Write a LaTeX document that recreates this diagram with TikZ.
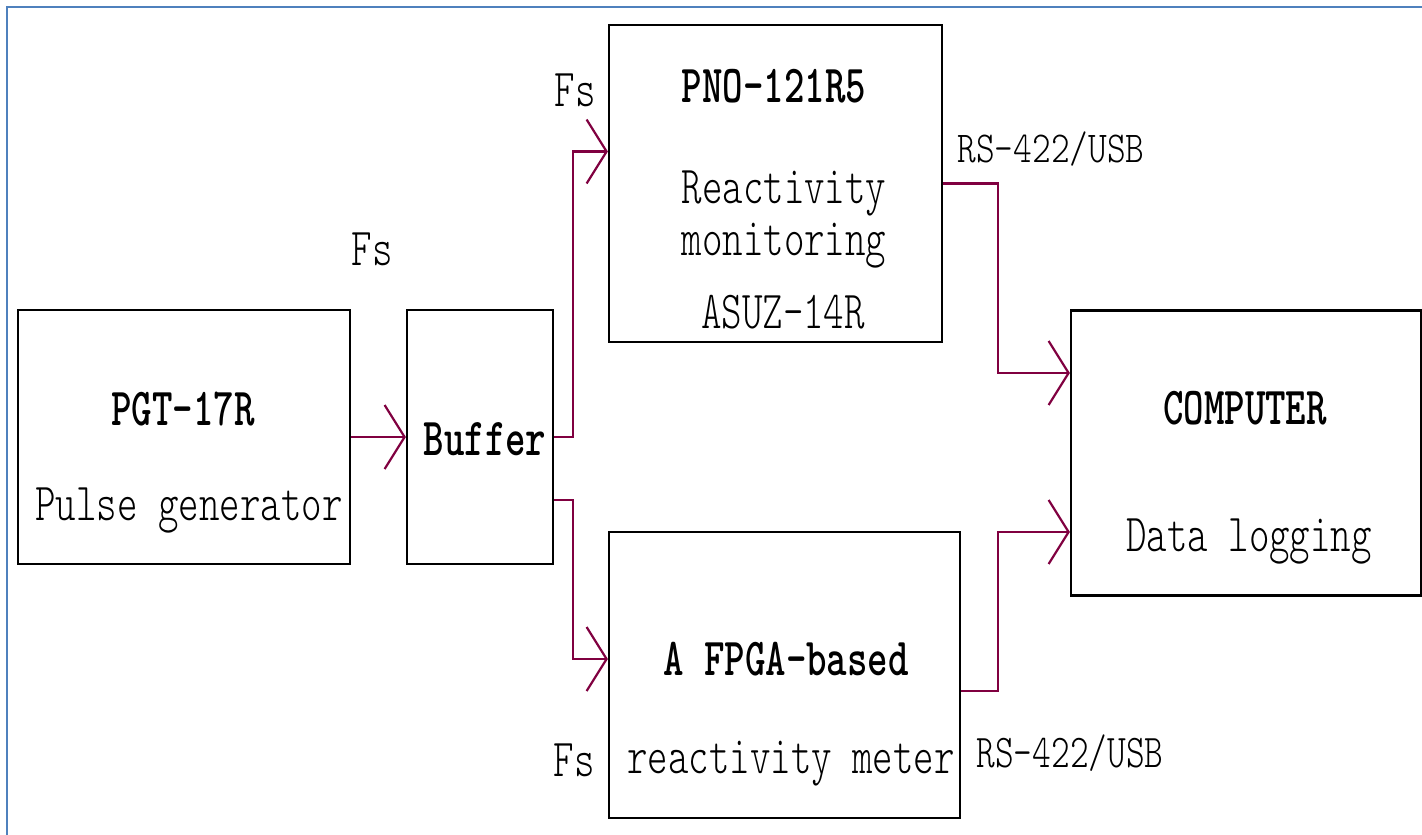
\documentclass[tikz,border=0pt]{standalone}
\usepackage{graphicx}
\usetikzlibrary{arrows.meta, positioning, calc}
\definecolor{framecolor}{RGB}{79,129,189}
\definecolor{linkcolor}{RGB}{128,0,64}
\newcommand{\tallt}[2][1.37]{\scalebox{1}[#1]{#2}}
\tikzset{
  box/.style   = {draw=black, line width=2.2pt, inner sep=0pt, fill=white},
  lbl/.style   = {inner sep=0pt, anchor=base,
                  font=\ttfamily\fontsize{39pt}{44pt}\fontseries{l}\selectfont},
  blbl/.style  = {lbl, font=\ttfamily\fontsize{39pt}{44pt}\fontseries{b}\selectfont},
  slbl/.style  = {lbl, font=\ttfamily\fontsize{35.6pt}{40pt}\fontseries{l}\selectfont},
  link/.style  = {line width=2.2pt, color=linkcolor,
                  -{Straight Barb[length=20pt, width=64pt, line width=2.2pt]}},
  frame/.style = {draw=framecolor, line width=2.6pt},
}

\begin{document}
\begin{tikzpicture}[x=1pt, y=-1pt]

\useasboundingbox (0,0) rectangle (1422,835);
\draw[frame] (7,7) rectangle (1440,850);

% blocks
\node[box, minimum width=332pt, minimum height=254pt] (pgt)  at (184,437)   {};
\node[box, minimum width=146pt, minimum height=254pt] (buf)  at (480,437)   {};
\node[box, minimum width=333pt, minimum height=317pt] (pno)  at (775.5,183.5) {};
\node[box, minimum width=351pt, minimum height=286pt] (fpga) at (784.5,675) {};
\node[box, minimum width=350pt, minimum height=285pt] (comp) at (1246,453) {};

% block texts
\node[blbl] (pgtname)  at (183,425) {\tallt{PGT-17R}};
\node[lbl]  (pgtrole)  at (189,520) {\tallt{Pulse generator}};
\node[blbl] (bufname)  at (485,455) {\tallt{Buffer}};
\node[blbl] (pnoname)  at (774,102) {\tallt{PNO-121R5}};
\node[lbl]  (pnorole)  at (784,203) {\tallt{Reactivity}};
\node[lbl]  (pnorole2) at (784,255) {\tallt{monitoring}};
\node[lbl]  (pnosys)   at (783,328) {\tallt{ASUZ-14R}};
\node[blbl] (fpganame) at (786,675) {\tallt{A FPGA-based}};
\node[lbl]  (fpgarole) at (791,773) {\tallt{reactivity meter}};
\node[blbl] (compname) at (1245,424) {\tallt{COMPUTER}};
\node[lbl]  (comprole) at (1249,551) {\tallt{Data logging}};

% signal labels
\node[lbl]  (fsbuf)  at (372,265) {\tallt{Fs}};
\node[lbl]  (fspno)  at (575,106) {\tallt{Fs}};
\node[lbl]  (fsfpga) at (574,776) {\tallt{Fs}};
\node[slbl] (rspno)  at (1051,162) {\tallt[1.24]{RS-422/USB}};
\node[slbl] (rsfpga) at (1070,767) {\tallt[1.32]{RS-422/USB}};

% connectors
\draw[link] (pgt) -- (buf);
\draw[link] (buf.east) -- ++(19,0) |- ([yshift=32pt]pno.west);
\draw[link] ([yshift=-63pt]buf.east) -- ++(19,0) |- ([yshift=16pt]fpga.west);
\draw[link] (pno.east) -- ++(55,0) |- ([yshift=80pt]comp.west);
\draw[link] ([yshift=-16pt]fpga.east) -- ++(37,0) |- ([yshift=-79pt]comp.west);

\end{tikzpicture}
\end{document}
